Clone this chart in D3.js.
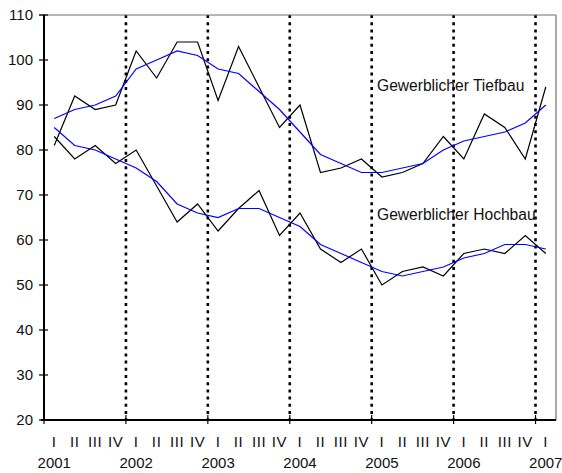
<!DOCTYPE html>
<html>
<head>
<meta charset="utf-8">
<script src="https://cdn.jsdelivr.net/npm/d3@7"></script>
<style>
html,body{margin:0;padding:0;background:#fff;}
svg{display:block;font-family:"Liberation Sans",Arial,sans-serif;}
</style>
</head>
<body>
<svg id="c" width="562" height="473"></svg>
<script>
// Quarters 2001 I .. 2007 I
const quarters = ["I","II","III","IV","I","II","III","IV","I","II","III","IV","I","II","III","IV","I","II","III","IV","I","II","III","IV","I"];
const years = ["2001","2002","2003","2004","2005","2006","2007"];
const yTicks = [20,30,40,50,60,70,80,90,100,110];

const tiefbau      = [81,92,89,90,102,96,104,104,91,103,94,85,90,75,76,78,74,75,77,83,78,88,85,78,94];
const tiefbauTrend = [87,89,90,92,98,100,102,101,98,97,93,89,84,79,77,75,75,76,77,80,82,83,84,86,90];
const hochbau      = [83,78,81,77,80,72,64,68,62,67,71,61,66,58,55,58,50,53,54,52,57,58,57,61,57];
const hochbauTrend = [85,81,80,78,76,73,68,66,65,67,67,65,63,59,57,55,53,52,53,54,56,57,59,59,58];

const labelTief = "Gewerblicher Tiefbau";
const labelHoch = "Gewerblicher Hochbau";

const svg = d3.select("#c");
const x = d3.scaleLinear().domain([0, 25]).range([44, 556]);
const y = d3.scaleLinear().domain([20, 110]).range([420, 15]);
const fs = 15;

// year dividers (dotted)
const yearIdx = d3.range(1, 7).map(k => k * 4);
svg.append("g").selectAll("line").data(yearIdx).join("line")
  .attr("x1", d => x(d)).attr("x2", d => x(d))
  .attr("y1", y(110)).attr("y2", y(20))
  .attr("stroke", "#000").attr("stroke-width", 2.6)
  .attr("stroke-dasharray", "3,4.2");

// lines
const line = d3.line().x((d, i) => x(i + 0.5)).y(d => y(d));
[[tiefbau, "#000"], [hochbau, "#000"], [tiefbauTrend, "#0000ff"], [hochbauTrend, "#0000ff"]].forEach(([data, col]) => {
  svg.append("path").datum(data).attr("d", line)
    .attr("fill", "none").attr("stroke", col).attr("stroke-width", 1.2)
    .attr("stroke-linejoin", "miter");
});

// frame top/right (gray)
svg.append("line").attr("x1", 39).attr("x2", x(25)).attr("y1", y(110)).attr("y2", y(110))
  .attr("stroke", "#6e6e6e").attr("stroke-width", 1.2);
svg.append("line").attr("x1", x(25)).attr("x2", x(25)).attr("y1", y(110)).attr("y2", y(20))
  .attr("stroke", "#6e6e6e").attr("stroke-width", 1.2);

// y axis
const ya = svg.append("g");
ya.append("line").attr("x1", x(0)).attr("x2", x(0)).attr("y1", y(110)).attr("y2", y(20))
  .attr("stroke", "#000").attr("stroke-width", 2);
ya.selectAll("line.t").data(yTicks).join("line").attr("class", "t")
  .attr("x1", x(0) - 5).attr("x2", x(0) + 4)
  .attr("y1", d => y(d)).attr("y2", d => y(d))
  .attr("stroke", "#000").attr("stroke-width", 1.2);
ya.selectAll("text").data(yTicks).join("text")
  .attr("x", 33).attr("y", d => y(d) + 5.3)
  .attr("text-anchor", "end").attr("font-size", fs).attr("fill", "#111")
  .text(d => d);

// x axis
const xa = svg.append("g");
xa.append("line").attr("x1", x(0) - 3).attr("x2", x(25)).attr("y1", y(20)).attr("y2", y(20))
  .attr("stroke", "#000").attr("stroke-width", 2);
xa.selectAll("line.t").data(d3.range(0, 7).map(k => k * 4)).join("line").attr("class", "t")
  .attr("x1", d => x(d)).attr("x2", d => x(d))
  .attr("y1", y(20) - 5).attr("y2", y(20) + 4)
  .attr("stroke", "#000").attr("stroke-width", 1.2);
xa.selectAll("text.q").data(quarters).join("text").attr("class", "q")
  .attr("x", (d, i) => x(i + 0.5)).attr("y", 447)
  .attr("text-anchor", "middle").attr("font-size", fs).attr("letter-spacing", 0.6).attr("fill", "#111")
  .text(d => d);
xa.selectAll("text.yr").data(years).join("text").attr("class", "yr")
  .attr("x", (d, i) => x(i * 4 + 0.5)).attr("y", 468)
  .attr("text-anchor", "middle").attr("font-size", fs).attr("fill", "#111")
  .text(d => d);

// series labels
svg.append("text").attr("x", 377).attr("y", 91).attr("font-size", 15.6).attr("fill", "#111").text(labelTief);
svg.append("text").attr("x", 377).attr("y", 219.5).attr("font-size", 15.6).attr("fill", "#111").text(labelHoch);
</script>
</body>
</html>
